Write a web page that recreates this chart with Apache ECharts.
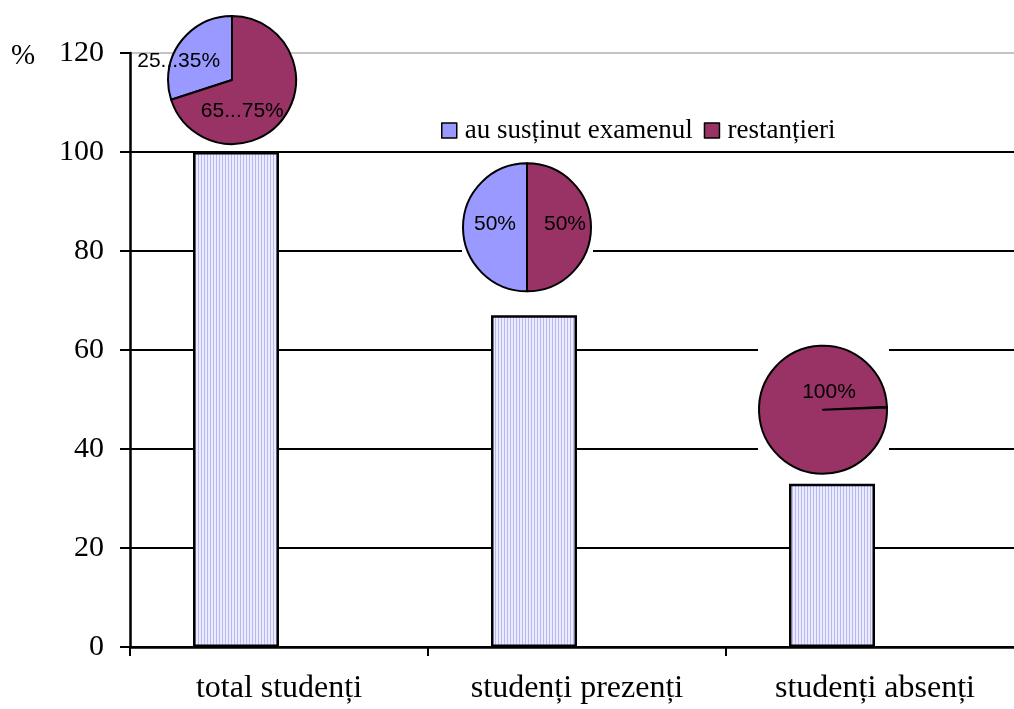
<!DOCTYPE html>
<html><head><meta charset="utf-8">
<script src="https://cdn.jsdelivr.net/npm/echarts@6/dist/echarts.min.js"></script>
<style>html,body{margin:0;padding:0;background:#fff;overflow:hidden}#c{width:1024px;height:709px}</style>
</head><body><div id="c"></div>
<script>
// ---- data ----
const categories = ['total studenți', 'studenți prezenți', 'studenți absenți'];
const barValues = [100, 67, 33];
const pieNames = ['au susținut examenul', 'restanțieri'];
const pie1Values = [30, 70];
const pie1Labels = ['25...35%', '65...75%'];
const pie2Values = [50, 50];
const pie2Labels = ['50%', '50%'];
const pie3Values = [0, 100];
const pie3Labels = ['', '100%'];
const yMin = 0, yMax = 120, yStep = 20;

// ---- style ----
const LAV = '#9999ff', MAR = '#993366';
function stripe() {
  const c = document.createElement('canvas'); c.width = 3; c.height = 4;
  const g = c.getContext('2d');
  g.fillStyle = '#ececff'; g.fillRect(0, 0, 3, 4);
  g.fillStyle = '#b8b8f6'; g.fillRect(0, 0, 1, 4);
  return c;
}
const serif = 'Liberation Serif';
const sans = 'Liberation Sans';

const chart = echarts.init(document.getElementById('c'));
const base = {
  animation: false,
  color: [LAV, MAR],
  title: { text: '%', left: 6, top: 37, textStyle: { fontFamily: serif, fontSize: 29, fontWeight: 'normal', color: '#000' } },
  legend: {
    data: pieNames, left: 436, top: 112, itemWidth: 15, itemHeight: 15, itemGap: 11,
    icon: 'rect', itemStyle: { borderColor: '#000', borderWidth: 1.5 },
    textStyle: { fontFamily: serif, fontSize: 27, color: '#000', padding: [0, 0, 0, 3] },
    selectedMode: false
  },
  grid: { left: 130, right: 0, top: 53, bottom: 62 },
  xAxis: {
    type: 'category', data: categories,
    axisLine: { lineStyle: { color: '#000', width: 2.5 } },
    axisTick: { show: true, length: 9, lineStyle: { color: '#000', width: 2 } },
    axisLabel: { fontFamily: serif, fontSize: 32, color: '#000', margin: 26 }
  },
  yAxis: {
    type: 'value', min: yMin, max: yMax, interval: yStep,
    axisLine: { show: true, lineStyle: { color: '#000', width: 2.5 } },
    axisTick: { show: true, length: 10, lineStyle: { color: '#000', width: 2 } },
    axisLabel: { fontFamily: serif, fontSize: 30, color: '#000', margin: 26 },
    splitLine: { lineStyle: { color: ['#000', '#000', '#000', '#000', '#000', '#000', '#c4c4c4'], width: 2 } }
  },
  series: [
    { type: 'bar', name: 'bars', data: barValues, barWidth: 86, barGap: '0%', z: 2,
      itemStyle: { color: { image: stripe(), repeat: 'repeat' }, borderColor: '#000', borderWidth: 2.5 } },
    { type: 'bar', name: 'empty', data: [], barWidth: 86, barGap: '0%' }
  ]
};
chart.setOption(base);

const pies = [
  { values: pie1Values, labels: pie1Labels, dx: -47, lift: 72, startAngle: 90, offsets: [[-25, 2], [-18, 11]], pos: ['inside', 'inside'], box: false },
  { values: pie2Values, labels: pie2Labels, dx: -50, lift: 88, startAngle: 90, offsets: [[3, -3], [3, -3]], pos: ['inside', 'inside'], box: true },
  { values: pie3Values, labels: pie3Labels, dx: -52, lift: 74, startAngle: 2, offsets: [[0, 0], [6, -17]], pos: ['inside', 'center'], box: true }
];
const R = 64;
const series = base.series.slice();
const graphic = [];
pies.forEach((p, i) => {
  const cx = chart.convertToPixel({ xAxisIndex: 0 }, categories[i]) + p.dx;
  const cy = chart.convertToPixel({ yAxisIndex: 0 }, barValues[i]) - p.lift;
  if (p.box) graphic.push({ type: 'rect', z: 1, shape: { x: cx - 65, y: cy - 66, width: 131, height: 132 }, style: { fill: '#fff' } });
  series.push({
    type: 'pie', name: 'pie' + i, radius: R, center: [cx, cy], startAngle: p.startAngle, clockwise: false,
    minAngle: 0.6, z: 5, silent: true,
    itemStyle: { borderColor: '#000', borderWidth: 2 },
    label: { fontFamily: sans, fontSize: 21, color: '#000' },
    labelLine: { show: false },
    emphasis: { disabled: true },
    data: p.values.map((v, j) => ({
      name: pieNames[j], value: v,
      label: { show: p.labels[j] !== '', position: p.pos[j], offset: p.offsets[j], formatter: p.labels[j] }
    }))
  });
});
chart.setOption({ series: series, graphic: graphic });
</script></body></html>
